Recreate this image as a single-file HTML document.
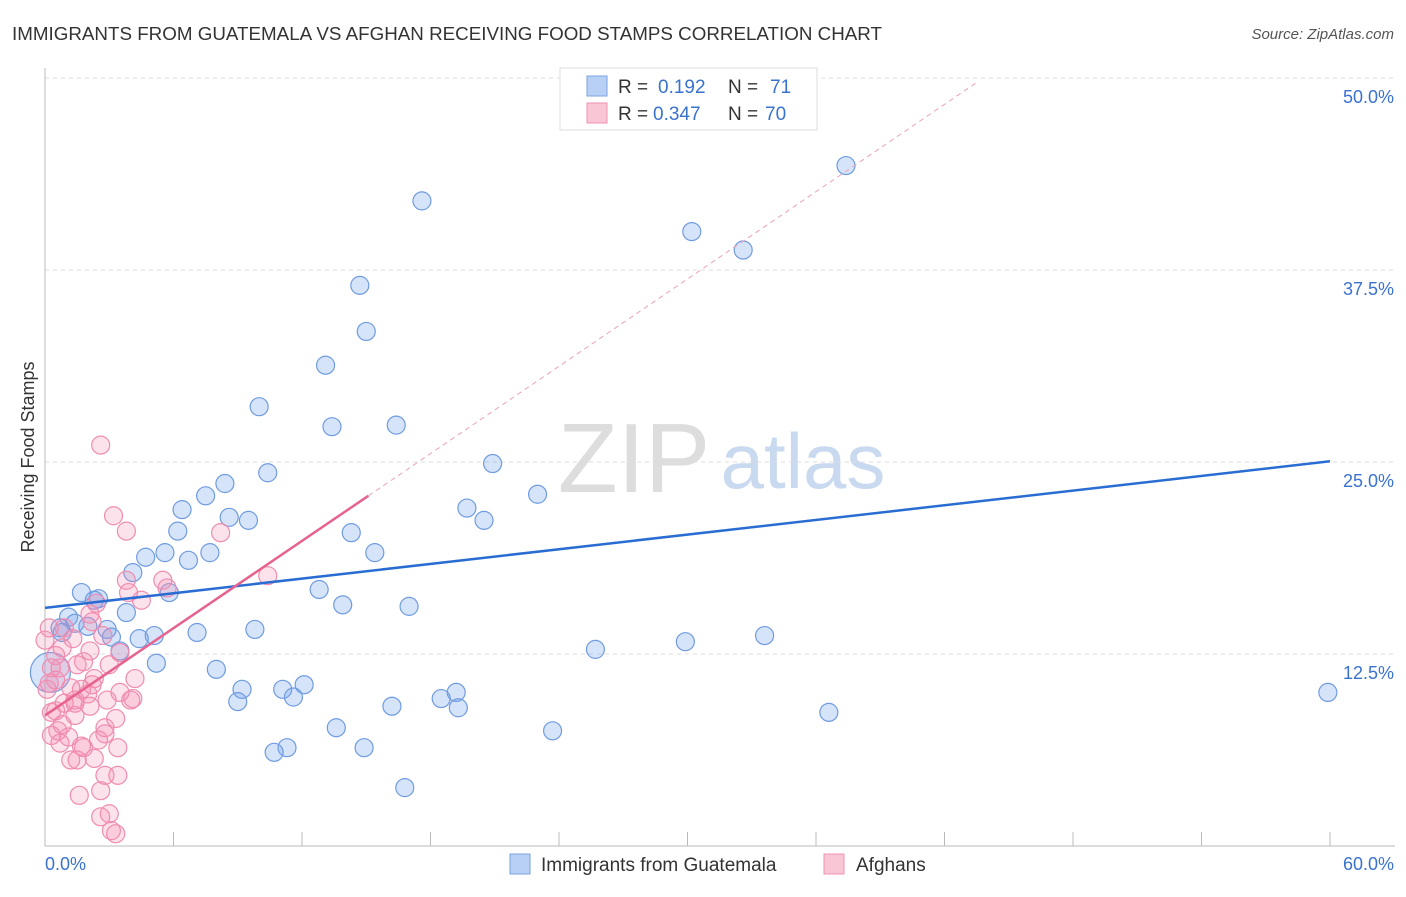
<!DOCTYPE html>
<html><head><meta charset="utf-8"><style>
body{margin:0;background:#fff;font-family:"Liberation Sans",sans-serif;}
svg text{font-family:"Liberation Sans",sans-serif;}
</style></head><body>
<svg id="chart" width="1406" height="892" xmlns="http://www.w3.org/2000/svg">
<text x="12" y="40" font-size="18" fill="#333" textLength="870" lengthAdjust="spacingAndGlyphs">IMMIGRANTS FROM GUATEMALA VS AFGHAN RECEIVING FOOD STAMPS CORRELATION CHART</text>
<text x="1394" y="39" font-size="15" fill="#555" font-style="italic" text-anchor="end">Source: ZipAtlas.com</text>
<g>
<text x="634" y="492" font-size="98" fill="#ddd" font-family="Liberation Serif,serif" text-anchor="middle">ZIP</text>
<text x="803" y="488" font-size="78" fill="#c9d9f0" text-anchor="middle">atlas</text>
</g>
<g id="grid"></g><g id="axes"></g><g id="marks"></g>
<text transform="translate(34,457) rotate(-90)" font-size="18" fill="#333" text-anchor="middle">Receiving Food Stamps</text>
<g>
<rect x="560" y="68" width="257" height="62" fill="#fff" stroke="#ddd"/>
<rect x="587" y="76" width="20" height="20" fill="#b8d0f4" stroke="#7aa3e0"/>
<rect x="587" y="103" width="20" height="20" fill="#f9c6d6" stroke="#ef93b2"/>
<text x="618" y="93" font-size="19" fill="#333">R = <tspan fill="#3a72d0" x="658">0.192</tspan><tspan x="728">N = </tspan><tspan fill="#3a72d0" x="770">71</tspan></text>
<text x="618" y="120" font-size="19" fill="#333">R = <tspan fill="#3a72d0" x="653">0.347</tspan><tspan x="728">N = </tspan><tspan fill="#3a72d0" x="765">70</tspan></text>
</g>
<g>
<rect x="510" y="854" width="20" height="20" fill="#b8d0f4" stroke="#7aa3e0"/>
<text x="541" y="871" font-size="19" fill="#333">Immigrants from Guatemala</text>
<rect x="824" y="854" width="20" height="20" fill="#f9c6d6" stroke="#ef93b2"/>
<text x="856" y="871" font-size="19" fill="#333">Afghans</text>
</g>
</svg>
<script>
const yTicks=[12.5,25,37.5,50];
const yTickLabels=["12.5%","25.0%","37.5%","50.0%"];
const xTickCount=10;
const xAxisLabels=["0.0%","60.0%"];
const blueX=[37.4,17.6,30.2,32.6,14.7,15.0,13.1,10.0,13.4,16.4,20.9,10.4,8.4,7.5,6.4,8.6,9.5,19.7,20.5,23.0,6.2,14.3,4.7,5.6,7.7,6.7,15.4,4.1,1.7,5.8,2.5,12.8,13.9,17.0,2.3,3.8,1.1,1.4,0.7,2.0,2.9,0.8,3.1,5.1,7.1,9.8,4.4,33.6,29.9,25.7,3.5,5.2,8.0,0.25,9.2,11.1,12.1,9.0,11.6,19.2,18.5,19.3,16.2,36.6,59.9,13.6,23.7,14.9,11.3,10.7,16.8];
const blueY=[44.3,42.0,40.0,38.8,36.5,33.5,31.3,28.6,27.3,27.4,24.9,24.3,23.6,22.8,21.9,21.4,21.2,22.0,21.2,22.9,20.5,20.4,18.8,19.1,19.1,18.6,19.1,17.8,16.5,16.5,16.1,16.7,15.7,15.6,16.0,15.2,14.9,14.5,14.2,14.3,14.1,13.9,13.6,13.7,13.9,14.1,13.5,13.7,13.3,12.8,12.7,11.9,11.5,11.3,10.2,10.2,10.5,9.4,9.7,10.0,9.6,9.0,9.1,8.7,10.0,7.7,7.5,6.4,6.4,6.1,3.8];
const pinkX=[2.6,3.2,3.8,8.2,10.4,3.8,5.5,5.7,2.4,3.9,4.5,2.1,2.2,0.2,0.9,1.3,2.7,0.8,2.1,3.5,1.8,3.0,1.5,0.3,0.7,0.2,0.5,1.2,4.2,2.3,1.7,2.0,3.5,4.1,0.9,1.4,2.1,0.3,0.5,1.4,3.3,0.8,2.8,0.6,1.1,0.3,0.7,1.8,2.5,1.7,1.2,1.5,2.8,2.3,3.4,2.8,3.4,1.6,2.6,3.0,2.6,3.1,3.3,0.0,0.1,0.5,4.0,2.9,1.4,2.2];
const pinkY=[26.1,21.5,20.5,20.4,17.6,17.3,17.3,16.8,15.8,16.5,16.0,15.1,14.6,14.2,14.2,13.5,13.7,12.9,12.7,12.6,12.0,11.8,11.8,11.6,11.6,10.6,10.8,10.3,10.9,10.9,10.2,9.9,10.0,9.6,9.3,9.3,9.1,8.7,8.8,8.5,8.3,7.9,7.7,7.5,7.1,7.2,6.7,6.4,6.9,6.5,5.6,5.6,7.3,5.7,6.4,4.6,4.6,3.3,3.6,2.1,1.9,1.0,0.8,13.4,10.2,12.4,9.5,9.5,9.5,10.5];
const blueTrend=[0,15.5,60,25.05];
const pinkTrend=[0,8.5,15.1,22.8,43.6,49.8];
const X=v=>45+v*(1285/60), Y=v=>846-v*(768/50);
const NS="http://www.w3.org/2000/svg";
function mk(tag,attrs,parent){const e=document.createElementNS(NS,tag);for(const k in attrs)e.setAttribute(k,attrs[k]);document.getElementById(parent).appendChild(e);return e;}
yTicks.forEach((t,i)=>{
 const g=mk('line',{x1:45,x2:1395,y1:Y(t),y2:Y(t),stroke:'#ddd','stroke-dasharray':'4,4'},'grid');
 
 
 const l=mk('text',{x:1394,y:Y(t)+25,'font-size':18,fill:'#3a72d0','text-anchor':'end'},'axes');
 l.textContent=yTickLabels[i];
 
 
});
const ya=mk('line',{x1:45,x2:45,y1:68,y2:846,stroke:'#bbb'},'axes');


const xa=mk('line',{x1:45,x2:1395,y1:846,y2:846,stroke:'#bbb'},'axes');


for(let i=0;i<=xTickCount;i++){
 const tk=mk('line',{x1:X(i*6),x2:X(i*6),y1:832,y2:846,stroke:'#bbb'},'axes');
 
 
}
[[0,'start',45],[60,'end',1394]].forEach((a,i)=>{
 const t=mk('text',{x:a[2],y:870,'font-size':18,fill:'#3a72d0','text-anchor':a[1]},'axes');
 t.textContent=xAxisLabels[i];
 
 
});
blueX.forEach((v,i)=>{
 const c=mk('circle',{cx:X(v),cy:Y(blueY[i]),r:(i==53?20:9),fill:'rgba(120,165,235,0.3)',stroke:'#6f9be0','stroke-width':1.2},'marks');
 
 
});
pinkX.forEach((v,i)=>{
 const c=mk('circle',{cx:X(v),cy:Y(pinkY[i]),r:9,fill:'rgba(245,140,175,0.25)',stroke:'#f08cb0','stroke-width':1.2},'marks');
 
 
});
const bt=mk('line',{x1:X(blueTrend[0]),y1:Y(blueTrend[1]),x2:X(blueTrend[2]),y2:Y(blueTrend[3]),stroke:'#2a6dd2','stroke-width':2.5},'marks');


const pt=mk('line',{x1:X(pinkTrend[0]),y1:Y(pinkTrend[1]),x2:X(pinkTrend[2]),y2:Y(pinkTrend[3]),stroke:'#e8628f','stroke-width':2.5},'marks');


const pd=mk('line',{x1:X(pinkTrend[2]),y1:Y(pinkTrend[3]),x2:X(pinkTrend[4]),y2:Y(pinkTrend[5]),stroke:'#eda0bb','stroke-width':1,'stroke-dasharray':'5,4'},'marks');


</script>
</body></html>
